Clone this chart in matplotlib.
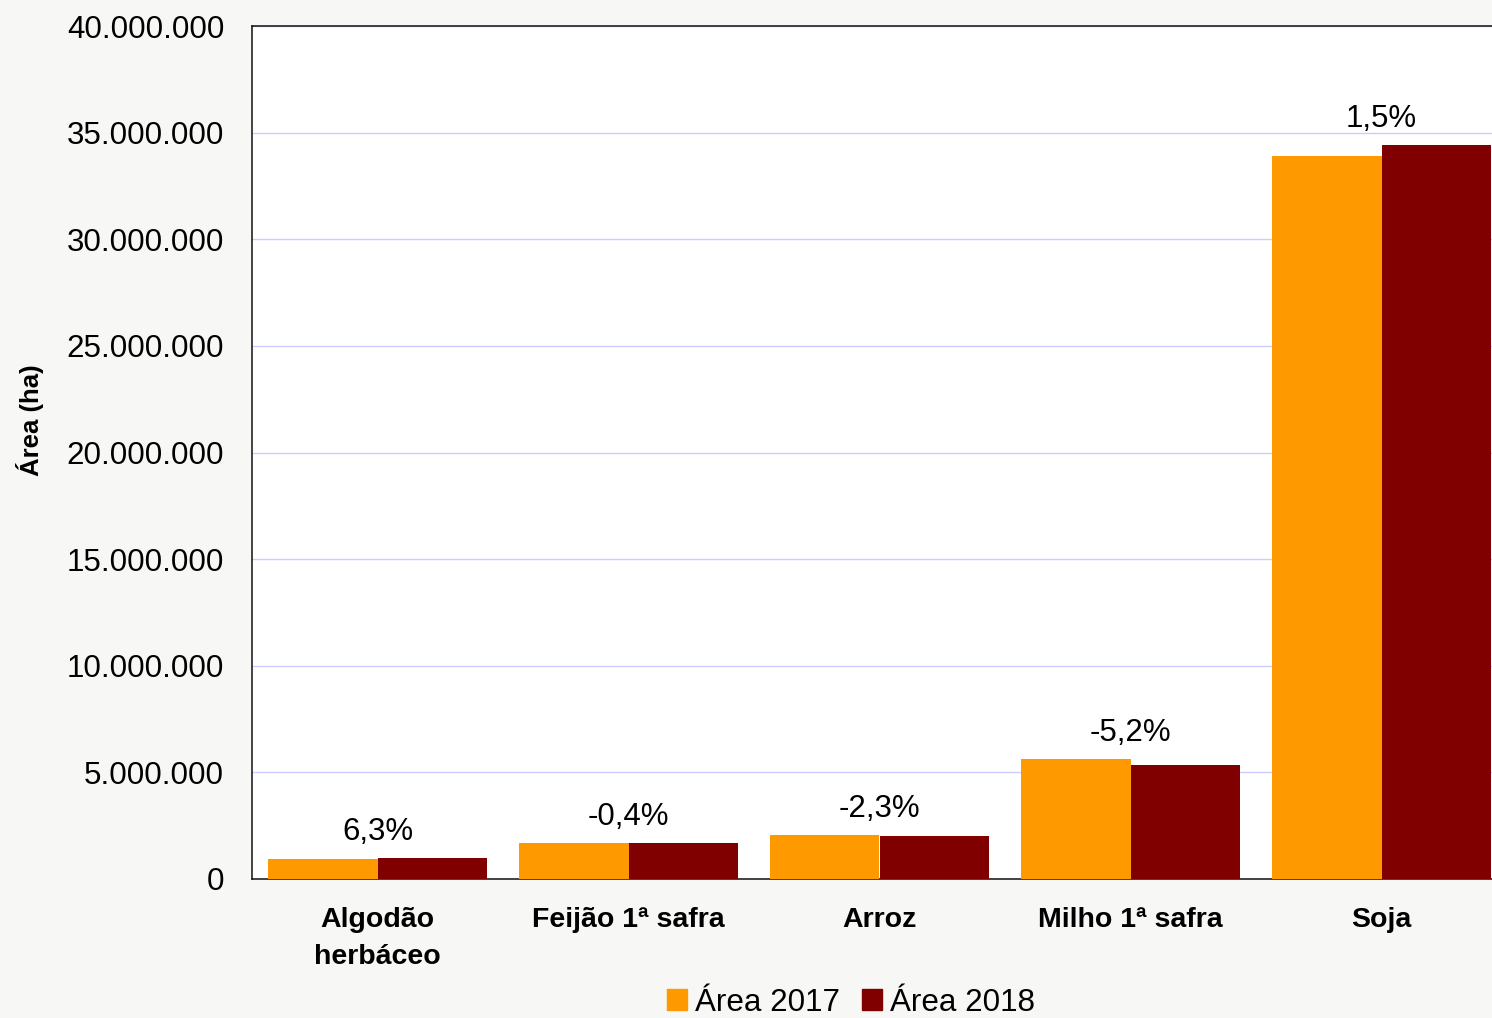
import matplotlib
matplotlib.use('Agg')
import matplotlib.pyplot as plt
import numpy as np
from matplotlib.patches import Patch
from matplotlib.ticker import FuncFormatter, MultipleLocator

plt.rcParams['font.family'] = ['Liberation Sans', 'DejaVu Sans']

# data (ha)
categories = ['Algodão\nherbáceo', 'Feijão 1ª safra', 'Arroz', 'Milho 1ª safra', 'Soja']
area_2017 = [940_000, 1_690_000, 2_060_000, 5_630_000, 33_900_000]
area_2018 = [1_000_000, 1_685_000, 2_010_000, 5_340_000, 34_400_000]
pct_labels = ['6,3%', '-0,4%', '-2,3%', '-5,2%', '1,5%']
series_names = ['Área 2017', 'Área 2018']

C17 = '#FF9900'
C18 = '#800000'
BG = '#F7F8F5'

W, H = 1492, 1018
fig = plt.figure(figsize=(W / 100, H / 100), dpi=100, facecolor=BG)
# plot area runs past the right edge of the figure, as in the reference
ax = fig.add_axes([252 / W, 1 - 879 / H, 1255 / W, 853 / H])
ax.set_facecolor('white')

x = np.arange(len(categories))
bw = 0.438
ax.bar(x - bw / 2, area_2017, bw, color=C17, zorder=3)
ax.bar(x + bw / 2, area_2018, bw, color=C18, zorder=3)

for i, lab in enumerate(pct_labels):
    top = max(area_2017[i], area_2018[i])
    ax.annotate(lab, (x[i], top), xytext=(0, 13), textcoords='offset points',
                ha='center', va='baseline', fontsize=22.5, color='black')

ax.set_xlim(-0.5, len(categories) - 0.5)
ax.set_ylim(0, 40_000_000)
ax.yaxis.set_major_locator(MultipleLocator(5_000_000))
ax.yaxis.set_major_formatter(FuncFormatter(lambda v, _: f'{int(v):,}'.replace(',', '.')))
ax.grid(True, axis='y', color='#CCCCFF', lw=1.0, zorder=0)
ax.set_axisbelow(True)

ax.tick_params(axis='y', length=0, pad=20, labelsize=22.6)
ax.tick_params(axis='x', length=0, pad=20)
ax.set_xticks(x)
ax.set_xticklabels(categories, fontsize=20.5, fontweight='bold', linespacing=1.55)

for side in ['left', 'top', 'bottom']:
    ax.spines[side].set_color('#111111')
    ax.spines[side].set_linewidth(1.1)
ax.spines['right'].set_visible(False)

fig.text(30 / W, 1 - 420 / H, 'Área (ha)', rotation=90, ha='center', va='center',
         fontsize=18.5, fontweight='bold')

handles = [Patch(color=C17), Patch(color=C18)]
fig.legend(handles, series_names, loc='center', bbox_to_anchor=(851 / W, 1 - 1003 / H),
           ncol=2, frameon=False, fontsize=22.6, handlelength=0.65, handleheight=0.65,
           handletextpad=0.25, columnspacing=0.7, borderpad=0)

fig.savefig('out.png', dpi=100, facecolor=BG)
